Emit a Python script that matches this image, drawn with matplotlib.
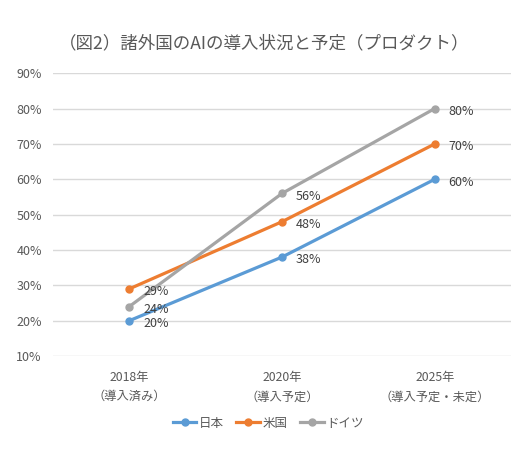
import matplotlib
matplotlib.use("Agg")
import matplotlib.pyplot as plt
from matplotlib.ticker import FuncFormatter

plt.rcParams['font.family'] = ['Noto Sans CJK JP', 'DejaVu Sans']

categories = ["2018年\n（導入済み）", "2020年\n（導入予定）", "2025年\n（導入予定・未定）"]
series_names = ["日本", "米国", "ドイツ"]
japan = [20, 38, 60]
usa = [29, 48, 70]
germany = [24, 56, 80]
colors = ["#5B9BD5", "#ED7D31", "#A5A5A5"]
title = "（図2）諸外国のAIの導入状況と予定（プロダクト）"

fig = plt.figure(figsize=(5.19, 4.63), dpi=100)
ax = fig.add_axes([0.102, 0.231, 0.883, 0.611])

x = list(range(len(categories)))
for name, vals, c in zip(series_names, [japan, usa, germany], colors):
    ax.plot(x, vals, color=c, lw=2.3, marker='o', ms=5, label=name, zorder=3)
    for xi, v in zip(x, vals):
        ax.annotate(f"{v}%", (xi, v), xytext=(10, -2), textcoords='offset points',
                    ha='left', va='center', fontsize=9, color='#404040', zorder=4)

ax.set_xlim(-0.5, 2.5)
ax.set_ylim(10, 90)
ax.set_yticks(range(10, 91, 10))
ax.yaxis.set_major_formatter(FuncFormatter(lambda v, p: f"{int(v)}%"))
ax.set_xticks(x)
ax.set_xticklabels(categories, fontsize=8.8, color='#595959', linespacing=1.6)
ax.tick_params(axis='y', labelsize=9, labelcolor='#595959', length=0, pad=8)
ax.tick_params(axis='x', length=0, pad=11)
ax.grid(axis='y', color='#D9D9D9', lw=1)
ax.set_axisbelow(True)
for s in ax.spines.values():
    s.set_visible(False)

fig.text(0.508, 0.906, title, ha='center', va='center', fontsize=12.6, color='#595959')

leg = fig.legend(loc='center', bbox_to_anchor=(0.517, 0.086), ncol=3, frameon=False,
                 fontsize=9, handlelength=1.9, handletextpad=0.2, columnspacing=1.0)
for t in leg.get_texts():
    t.set_color('#595959')

fig.savefig("out.png", dpi=100)
